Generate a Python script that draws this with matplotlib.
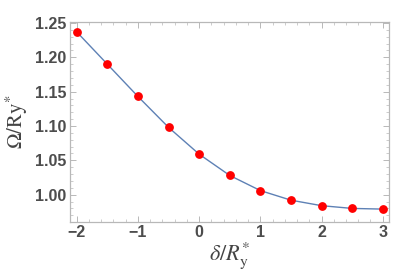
import matplotlib
matplotlib.use("Agg")
import matplotlib.pyplot as plt
from matplotlib.ticker import MultipleLocator

# detuning in units of Ry*
delta = [-2.0, -1.5, -1.0, -0.5, 0.0, 0.5, 1.0, 1.5, 2.0, 2.5, 3.0]
# frequency in units of Ry*
omega = [1.237, 1.190, 1.143, 1.098, 1.059, 1.028, 1.006, 0.992, 0.984, 0.980, 0.979]

plt.rcParams["mathtext.fontset"] = "stix"

fig = plt.figure(figsize=(4.15, 2.71), dpi=100)
ax = fig.add_axes([0.1675, 0.181, 0.7695, 0.738])

ax.plot(delta, omega, "-", color="#5E81B5", linewidth=1.0, zorder=2)
ax.plot(delta, omega, "o", color="#FF0000", markersize=5.3, zorder=3)

ax.set_xlim(-2.118, 3.10)
ax.set_ylim(0.9603, 1.2515)

ax.xaxis.set_major_locator(MultipleLocator(1))
ax.xaxis.set_minor_locator(MultipleLocator(0.2))
ax.yaxis.set_major_locator(MultipleLocator(0.05))
ax.yaxis.set_minor_locator(MultipleLocator(0.01))
ax.yaxis.set_major_formatter(plt.FormatStrFormatter("%.2f"))

frame_col = "#B8B8B8"
for s in ax.spines.values():
    s.set_color(frame_col)
    s.set_linewidth(0.9)

ax.tick_params(which="both", direction="in", top=True, right=True, color=frame_col)
ax.tick_params(which="major", length=4, width=0.7)
ax.tick_params(which="minor", length=2, width=0.5)
ax.tick_params(labelsize=11.5, labelcolor="#4D4D4D", pad=2.5)
for lab in ax.get_xticklabels() + ax.get_yticklabels():
    lab.set_fontweight("bold")
    lab.set_family("Liberation Sans")

ax.set_xlabel(r"$\delta/R_{\mathrm{y}}^{*}$", fontsize=16, color="#444444", labelpad=0)
ax.set_ylabel(r"$\Omega/\mathrm{Ry}^{*}$", fontsize=15, color="#444444", labelpad=3)

fig.savefig("out.png", dpi=100)
